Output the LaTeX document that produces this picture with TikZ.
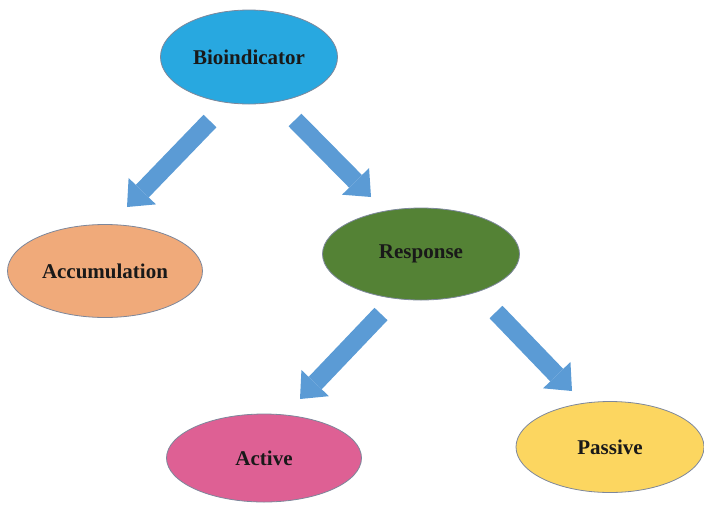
\documentclass[tikz,border=0pt]{standalone}
\usepackage{fontspec}
\setmainfont{Liberation Serif}
\usetikzlibrary{shapes.geometric,arrows.meta}
\definecolor{bioblue}{RGB}{40,168,224}
\definecolor{arrowblue}{RGB}{91,155,213}
\definecolor{accfill}{RGB}{240,170,122}
\definecolor{respfill}{RGB}{84,130,53}
\definecolor{actfill}{RGB}{222,96,148}
\definecolor{pasfill}{RGB}{252,214,96}
\definecolor{rimgrey}{RGB}{125,135,155}
\tikzset{
  oval/.style={ellipse, draw=rimgrey, line width=0.8pt, inner sep=0pt,
    font=\fontsize{21}{24}\selectfont\bfseries, text=black!90},
  blockarrow/.style={draw=arrowblue, line width=18pt,
    -{Triangle[length=22pt,width=38pt,line width=0pt]}}
}
\begin{document}
\begin{tikzpicture}[x=1pt,y=-1pt]
\useasboundingbox (0,0) rectangle (704,504);
\node[oval, fill=bioblue, minimum width=177pt, minimum height=94pt] (bio) at (249,57) {Bioindicator};
\node[oval, fill=accfill, minimum width=195pt, minimum height=93pt] (acc) at (105,271) {Accumulation};
\node[oval, fill=respfill, minimum width=197pt, minimum height=92pt] (resp) at (421,254) {Response};
\node[oval, fill=actfill, minimum width=195pt, minimum height=88pt] (act) at (264,458) {Active};
\node[oval, fill=pasfill, minimum width=188pt, minimum height=91pt] (pas) at (610,447) {Passive};
\coordinate (a1s) at (210,121);
\coordinate (a1e) at (127,207);
\coordinate (a2s) at (295,120);
\coordinate (a2e) at (371,197);
\coordinate (a3s) at (381,314);
\coordinate (a3e) at (300,399);
\coordinate (a4s) at (496,312);
\coordinate (a4e) at (572,391);
\draw[blockarrow] (a1s) -- (a1e);
\draw[blockarrow] (a2s) -- (a2e);
\draw[blockarrow] (a3s) -- (a3e);
\draw[blockarrow] (a4s) -- (a4e);
\end{tikzpicture}
\end{document}
